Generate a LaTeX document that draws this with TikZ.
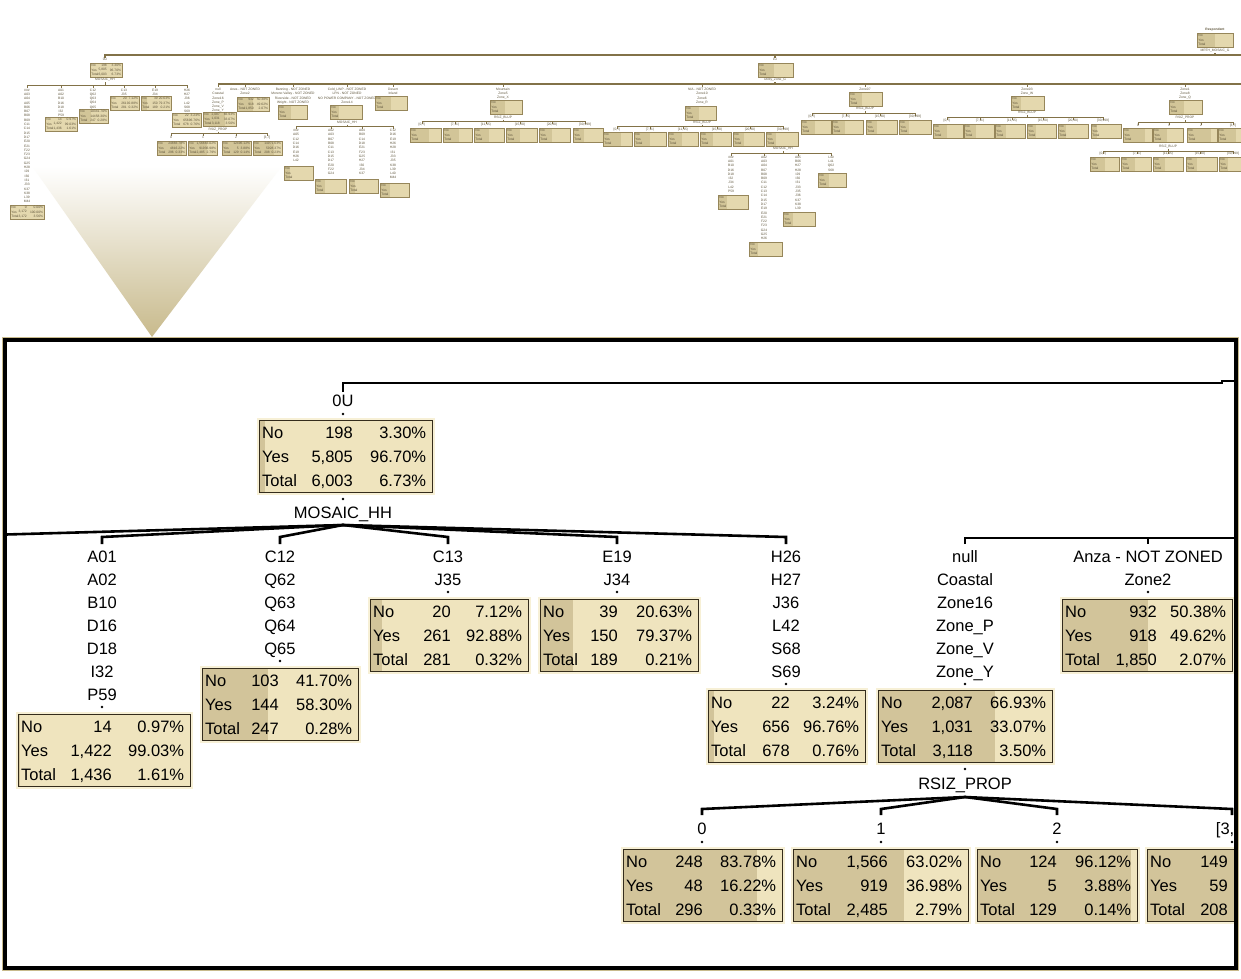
\documentclass[tikz,border=0pt]{standalone}
\usepackage{fontspec}
\setmainfont{Liberation Sans}
\usetikzlibrary{calc}
\definecolor{lt}{RGB}{239,228,190}
\definecolor{dk}{RGB}{210,196,154}
\definecolor{bd}{RGB}{52,44,28}
\definecolor{glow}{RGB}{247,240,214}
\definecolor{ovfill}{RGB}{228,216,174}
\definecolor{ovdark}{RGB}{210,197,152}
\definecolor{ovbd}{RGB}{150,134,90}
\definecolor{ovln}{RGB}{130,114,72}
\definecolor{ovtx}{RGB}{95,85,60}
\definecolor{trmid}{RGB}{238,226,186}
\definecolor{trbot}{RGB}{200,186,140}
\tikzset{
 big/.style={font=\fontsize{16.5}{18}\selectfont, inner sep=0, text=black},
 sbox/.style={draw=bd, line width=1.3, fill=lt, minimum height=72, inner sep=0, anchor=north west,
   preaction={draw=glow, line width=5},
   path picture={\fill[dk] (path picture bounding box.south west) rectangle ($(path picture bounding box.north west)!#1!(path picture bounding box.north east)$);}},
 conn/.style={draw=black, line width=2.6},
 ovt/.style={font=\fontsize{3.3}{3.3}\selectfont, text=ovtx, inner sep=0},
 ovbox/.style={draw=ovbd, line width=0.5, fill=ovfill, minimum height=14, inner sep=0, anchor=north west,
   path picture={\fill[ovdark] (path picture bounding box.south west) rectangle ($(path picture bounding box.north west)!#1!(path picture bounding box.north east)$);}},
 ovl/.style={draw=ovln, line width=1.5},
 ovs/.style={draw=ovln, line width=0.9},
}
% big box rows: node, count column offset, six values
\newcommand\rows[8]{%
 \node[big,anchor=base west] at ($(#1.north west)+(3,18.5)$) {No};
 \node[big,anchor=base east] at ($(#1.north west)+(#2,18.5)$) {#3};
 \node[big,anchor=base east] at ($(#1.north east)+(-7,18.5)$) {#4};
 \node[big,anchor=base west] at ($(#1.north west)+(3,42.5)$) {Yes};
 \node[big,anchor=base east] at ($(#1.north west)+(#2,42.5)$) {#5};
 \node[big,anchor=base east] at ($(#1.north east)+(-7,42.5)$) {#6};
 \node[big,anchor=base west] at ($(#1.north west)+(3,66.5)$) {Total};
 \node[big,anchor=base east] at ($(#1.north west)+(#2,66.5)$) {#7};
 \node[big,anchor=base east] at ($(#1.north east)+(-7,66.5)$) {#8};}
\newcommand\dotat[2]{\fill (#1,#2) circle (1.3);}
\newcommand\biglist[4]{\foreach \itm [count=\i] in {#4} \node[big, anchor=base] (#1-\i) at (#2,{#3+(\i-1)*23}) {\itm};}
% overview helpers
\newcommand\ovb[5]{%
 \node[ovbox=#5, minimum width={#4-#2}] (#1) at (#2,#3) {};
 \node[ovt, anchor=west] at ($(#1.north west)+(1.2,2.6)$) {No};
 \node[ovt, anchor=west] at ($(#1.north west)+(1.2,7)$) {Yes};
 \node[ovt, anchor=west] at ($(#1.north west)+(1.2,11.4)$) {Total};}
\newcommand\ovn[7]{%
 \node[ovt, anchor=east] at ($(#1.north west)+(17,2.6)$) {#2};
 \node[ovt, anchor=east] at ($(#1.north east)+(-1.2,2.6)$) {#3};
 \node[ovt, anchor=east] at ($(#1.north west)+(17,7)$) {#4};
 \node[ovt, anchor=east] at ($(#1.north east)+(-1.2,7)$) {#5};
 \node[ovt, anchor=east] at ($(#1.north west)+(17,11.4)$) {#6};
 \node[ovt, anchor=east] at ($(#1.north east)+(-1.2,11.4)$) {#7};}
\newcommand\ovlist[4]{\foreach \itm [count=\i] in {#4} \node[ovt] (#1-\i) at (#2,{#3+(\i-1)*4.3}) {\itm};}
\newcommand\ovfan[4]{\draw[ovs] (#1,#2) -- (#1,#3);
 \foreach \cc in {#4} \draw[ovs] (#1,#3) -- (\cc,#3) -- (\cc,#3+2.5);}
\newcommand\ovlabs[2]{\foreach \xx/\tx in {#2} \node[ovt] at (\xx,#1) {\tx};}
\newcommand\ovrow[3]{\foreach \aa/\bb/\ff [count=\i] in {#3} {\ovb{#1\i}{\aa}{#2}{\bb}{\ff}}}
\begin{document}
\begin{tikzpicture}[x=1pt,y=-1pt]
\useasboundingbox (0,0) rectangle (1241,978);
\clip (0,0) rectangle (1241,978);
\fill[white] (0,0) rectangle (1241,978);

% ================= overview =================
\node[ovt, font=\bfseries\fontsize{3.3}{3.3}\selectfont] (oRespL) at (1215,30) {Respondent};
\ovb{oRoot}{1197}{33}{1233}{0.5}
\node[ovt] (oRootS) at (1215,51) {MRTH\_MOSAIC\_G};
\draw[ovl] (1215,53) -- (1215,55);
\draw[ovl] (105,57.5) -- (105,55) -- (1241,55);
\draw[ovl] (775,55) -- (775,57.5);

% 0U subtree
\node[ovt] (o0UL) at (105,59.8) {0U};
\ovb{o0U}{90}{63}{122}{0.033}
\ovn{o0U}{198}{3.30\%}{5,805}{96.70\%}{6,003}{6.73\%}
\node[ovt] (o0US) at (105,80) {MOSAIC\_HH};
\ovfan{105}{82}{85}{27,61,93,124,155,187}
\ovlist{oLh}{27}{90}{\#\#\#,A03,A04,A05,B06,B07,B08,B09,C11,C14,D15,D17,E20,E21,F22,F23,G24,G25,H28,I29,I30,I31,J33,K37,K38,L39,M44}
\ovb{oHash}{10}{205}{44}{0.0}
\ovn{oHash}{0}{0.00\%}{3,172}{100.00\%}{3,172}{3.56\%}
\ovlist{oLa}{61}{90}{A01,A02,B10,D16,D18,I32,P59}
\ovb{oA01}{45}{117}{77}{0.0097}
\ovn{oA01}{14}{0.97\%}{1,422}{99.03\%}{1,436}{1.61\%}
\ovlist{oLc}{93}{90}{C12,Q62,Q63,Q64,Q65}
\ovb{oC12}{79}{109}{108}{0.417}
\ovn{oC12}{103}{41.70\%}{144}{58.30\%}{247}{0.28\%}
\ovlist{oLd}{124}{90}{C13,J35}
\ovb{oC13}{110}{96}{139}{0.0712}
\ovn{oC13}{20}{7.12\%}{261}{92.88\%}{281}{0.32\%}
\ovlist{oLe}{155}{90}{E19,J34}
\ovb{oE19}{141}{96}{171}{0.2063}
\ovn{oE19}{39}{20.63\%}{150}{79.37\%}{189}{0.21\%}
\ovlist{oLf}{187}{90}{H26,H27,J36,L42,S68,S69}
\ovb{oH26}{172}{113}{201}{0.0324}
\ovn{oH26}{22}{3.24\%}{656}{96.76\%}{678}{0.76\%}

% second child of root
\node[ovt] (oAllL) at (775,59.8) {1U};
\ovb{oAll}{758}{63}{793}{0.45}
\node[ovt] (oAllS) at (775,80) {Utility\_Zone\_G};
\draw[ovl] (775,82) -- (775,84);
\draw[ovl] (218,84) -- (1241,84);
\foreach \cc in {218,245,293,347,393,503,702,865,1027,1185} \draw[ovs] (\cc,84) -- (\cc,86.5);

% null
\ovlist{oLn}{218}{89.5}{null,Coastal,Zone16,Zone\_P,Zone\_V,Zone\_Y}
\ovb{oNull}{203}{112}{236}{0.6693}
\ovn{oNull}{2,087}{66.93\%}{1,031}{33.07\%}{3,118}{3.50\%}
\node[ovt] (oNullS) at (218,129.5) {RSIZ\_PROP};
\ovfan{218}{131.5}{133.5}{171,203,236,267}
\ovlabs{137.5}{171/0,203/1,236/2,267/{[3,7]}}
\ovrow{oR}{141}{157/186/0.8378,188/217/0.6302,222/251/0.9612,253/282/0.7163}
\ovn{oR1}{248}{83.78\%}{48}{16.22\%}{296}{0.33\%}
\ovn{oR2}{1,566}{63.02\%}{919}{36.98\%}{2,485}{2.79\%}
\ovn{oR3}{124}{96.12\%}{5}{3.88\%}{129}{0.14\%}
\ovn{oR4}{149}{71.63\%}{59}{28.37\%}{208}{0.23\%}

% Anza
\ovlist{oLz}{245}{89.5}{Anza - NOT ZONED,Zone2}
\ovb{oAnza}{237}{97}{269}{0.5038}
\ovn{oAnza}{932}{50.38\%}{918}{49.62\%}{1,850}{2.07\%}

% Banning
\ovlist{oLb}{293}{89.5}{Banning - NOT ZONED,Moreno Valley - NOT ZONED,Riverside - NOT ZONED,Wright - NOT ZONED}
\ovb{oBan}{278}{105}{307}{0.43}

% Cold
\ovlist{oLk}{347}{89.5}{Cold\_LINP - NOT ZONED,LPN - NOT ZONED,NO POWER COMPANY - NOT ZONED,Zone14}
\ovb{oCold}{330}{105}{362}{0.27}
\node[ovt] (oColdS) at (347,122.5) {MOSAIC\_HH};
\ovfan{347}{124.5}{126.5}{296,331,362,393}
\ovlist{oLk1}{296}{130.5}{\#\#\#,A05,C12,C14,D16,E19,H26,L42}
\ovb{oK1}{284}{166}{313}{0.2}
\ovlist{oLk2}{331}{130.5}{A02,A03,B07,B08,C11,C13,D15,D17,E20,F22,G24}
\ovb{oK2}{315}{179}{346}{0.3}
\ovlist{oLk3}{362}{130.5}{A04,B09,C14,D18,E21,F23,G25,H27,I30,J34,K37}
\ovb{oK3}{349}{179}{378}{0.2}
\ovlist{oLk4}{393}{130.5}{C12,D16,E19,H26,H28,I31,J33,J35,K38,L39,L40,M44}
\ovb{oK4}{380}{183}{409}{0.35}

% Desert
\ovlist{oLd2}{393}{89.5}{Desert,Inland}
\ovb{oDes}{375}{96}{407}{0.5}

% Mountain
\ovlist{oLm}{503}{89.5}{Mountain,Zone5,Zone\_X}
\ovb{oMnt}{490}{100}{522}{0.45}
\node[ovt] (oMntS) at (503,117.5) {RSIZ\_BLUP};
\ovfan{503}{119.5}{121.5}{422,455,486,520,552,585}
\ovlabs{125}{422/{[0,7)},455/{[7,11)},486/{[11,15)},520/{[15,20)},552/{[20,30)},585/{[30,999]}}
\ovrow{oM}{128}{410/441/0.6,443/472/0.55,474/504/0.5,506/537/0.45,539/570/0.4,573/603/0.35}

% N/A
\ovlist{oLna}{702}{89.5}{N/A - NOT ZONED,Zone10,Zone6,Zone\_R}
\ovb{oNA}{685}{106}{716}{0.45}
\node[ovt] (oNAS) at (702,122.5) {RSIZ\_BLUP};
\ovfan{702}{124.5}{126}{617,650,683,717,750,783}
\ovlabs{129.5}{617/{[0,7)},650/{[7,11)},683/{[11,15)},717/{[15,20)},750/{[20,30)},783/{[30,999]}}
\ovrow{oN}{132}{603/632/0.6,634/666/0.5,668/698/0.45,700/731/0.4,733/764/0.35,766/798/0.3}
\node[ovt] (oN6S) at (783,149) {MOSAIC\_HH};
\ovfan{783}{151}{153}{731,764,798,831}
\ovlist{oLq1}{731}{157}{\#\#\#,A01,B10,D16,D18,I32,J34,L42,P59}
\ovb{oQ1}{718}{195}{748}{0.3}
\ovlist{oLq2}{764}{157}{A02,A03,A04,B07,B08,B09,C11,C12,C13,C14,D15,D17,E19,E20,E21,F22,F23,G24,G25,H26}
\ovb{oQ2}{749}{242}{782}{0.25}
\ovlist{oLq3}{798}{157}{A05,B06,H27,H28,I29,I30,I31,J33,J35,J36,K37,K38,L39}
\ovb{oQ3}{783}{212}{815}{0.3}
\ovlist{oLq4}{831}{157}{L40,L41,Q62,S68}
\ovb{oQ4}{818}{173}{846}{0.4}

% Zone07
\ovlist{oLs}{865}{89.5}{Zone07}
\ovb{oS}{849}{92}{882}{0.4}
\node[ovt] (oSS) at (865,109) {RSIZ\_BLUP};
\ovfan{865}{111}{113}{812,846,880,915}
\ovlabs{116.5}{812/{[0,7)},846/{[7,15)},880/{[15,30)},915/{[30,999]}}
\ovrow{oS}{120}{801/831/0.45,832/863/0.4,866/897/0.35,899/931/0.3}

% Zone03
\ovlist{oLt}{1027}{89.5}{Zone03,Zone\_W}
\ovb{oT}{1011}{96}{1044}{0.3}
\node[ovt] (oTS) at (1027,113) {RSIZ\_BLUP};
\ovfan{1027}{115}{117}{947,980,1012,1043,1073,1103}
\ovlabs{120.5}{947/{[0,7)},980/{[7,11)},1012/{[11,15)},1043/{[15,20)},1073/{[20,30)},1103/{[30,999]}}
\ovrow{oT}{124}{933/963/0.45,964/994/0.4,995/1025/0.35,1027/1056/0.3,1058/1088/0.25,1091/1121/0.2}

% Zone1
\ovlist{oLu}{1185}{89.5}{Zone1,Zone8,Zone\_Q}
\ovb{oU}{1169}{100}{1202}{0.45}
\node[ovt] (oUS) at (1185,118) {RSIZ\_PROP};
\ovfan{1185}{120}{122}{1138,1169,1201,1233}
\ovlabs{125.5}{1138/0,1169/1,1201/2,1233/{[3,7]}}
\ovrow{oU}{128}{1123/1152/0.75,1153/1183/0.45,1187/1217/0.8,1218/1248/0.6}
\node[ovt] (oU2S) at (1168,146.5) {RSIZ\_BLUP};
\ovfan{1168}{148.5}{151}{1103,1137,1168,1200,1233}
\ovlabs{154}{1103/{[0,7)},1137/{[7,11)},1168/{[11,15)},1200/{[15,30)},1233/{[30,999]}}
\ovrow{oV}{157}{1090/1119/0.5,1121/1151/0.45,1153/1183/0.4,1186/1217/0.35,1219/1249/0.3}

% ================= magnifier triangle =================
\shade[top color=white, middle color=trmid, bottom color=trbot] (32,166) -- (282,166) -- (152,337) -- cycle;

% ================= zoomed view =================
\begin{scope}
\clip (7,342) rectangle (1234,966);
\coordinate (zTopL) at (343,383);
\coordinate (zTopR) at (1245,381);
\coordinate (z0Uin) at (343,392);
\draw[conn] (z0Uin) -- (zTopL) -- (1222,383) -- (1222,381) -- (zTopR);
\node[big, anchor=base] (z0UL) at (343,406) {0U};
\dotat{343}{414}
\node[sbox=0.033, minimum width=173] (z0U) at (259,420) {};
\rows{z0U}{94}{198}{3.30\%}{5,805}{96.70\%}{6,003}{6.73\%}
\dotat{343}{499}
\node[big, anchor=base] (z0US) at (343,518) {MOSAIC\_HH};
\coordinate (zfM) at (343,525);
\foreach \cx/\nm in {-83/hash,102/A01,280/C12,448/C13,617/E19,786/H26} {
  \coordinate (ze\nm) at (\cx,537);
  \coordinate (zt\nm) at (\cx,544);
  \draw[conn] (zfM) -- (ze\nm) -- (zt\nm);
}
% utility zone branch line
\coordinate (zUn) at (965,544);
\coordinate (zUa) at (1148,544);
\coordinate (zUr) at (1245,538);
\draw[conn] (zUn) -- (965,538) -- (zUr);
\draw[conn] (1148,538) -- (zUa);

% MOSAIC children
\biglist{zLa}{102}{562}{A01,A02,B10,D16,D18,I32,P59}
\dotat{102}{707}
\node[sbox=0.0097, minimum width=172] (zA01) at (18,714) {};
\rows{zA01}{94}{14}{0.97\%}{1,422}{99.03\%}{1,436}{1.61\%}

\biglist{zLc}{280}{562}{C12,Q62,Q63,Q64,Q65}
\dotat{280}{661}
\node[sbox=0.417, minimum width=156] (zC12) at (202,668) {};
\rows{zC12}{77}{103}{41.70\%}{144}{58.30\%}{247}{0.28\%}

\biglist{zLd}{448}{562}{C13,J35}
\dotat{448}{592}
\node[sbox=0.0712, minimum width=158] (zC13) at (370,599) {};
\rows{zC13}{81}{20}{7.12\%}{261}{92.88\%}{281}{0.32\%}

\biglist{zLe}{617}{562}{E19,J34}
\dotat{617}{592}
\node[sbox=0.2063, minimum width=158] (zE19) at (540,599) {};
\rows{zE19}{78}{39}{20.63\%}{150}{79.37\%}{189}{0.21\%}

\biglist{zLf}{786}{562}{H26,H27,J36,L42,S68,S69}
\dotat{786}{684}
\node[sbox=0.0324, minimum width=157] (zH26) at (708,690) {};
\rows{zH26}{82}{22}{3.24\%}{656}{96.76\%}{678}{0.76\%}

\biglist{zLn}{965}{562}{null,Coastal,Zone16,Zone\_P,Zone\_V,Zone\_Y}
\dotat{965}{684}
\node[sbox=0.6693, minimum width=174] (zNull) at (878,690) {};
\rows{zNull}{95}{2,087}{66.93\%}{1,031}{33.07\%}{3,118}{3.50\%}

\biglist{zLz}{1148}{562}{Anza - NOT ZONED,Zone2}
\dotat{1148}{592}
\node[sbox=0.5038, minimum width=170] (zAnza) at (1062,599) {};
\rows{zAnza}{95}{932}{50.38\%}{918}{49.62\%}{1,850}{2.07\%}

% RSIZ_PROP split
\dotat{965}{769}
\node[big, anchor=base] (zNullS) at (965,789) {RSIZ\_PROP};
\coordinate (zfR) at (965,797);
\foreach \cx/\nm in {702/r0,881/r1,1057/r2,1232/r3} {
  \coordinate (ze\nm) at (\cx,809);
  \coordinate (zt\nm) at (\cx,815);
  \draw[conn] (zfR) -- (ze\nm) -- (zt\nm);
}
\node[big, anchor=base] (zLr0) at (702,834) {0};
\node[big, anchor=base] (zLr1) at (881,834) {1};
\node[big, anchor=base] (zLr2) at (1057,834) {2};
\node[big, anchor=base] (zLr3) at (1232,834) {[3,7]};
\foreach \cx in {702,881,1057,1232} \dotat{\cx}{842}
\node[sbox=0.8378, minimum width=159] (zR0) at (623,849) {};
\rows{zR0}{80}{248}{83.78\%}{48}{16.22\%}{296}{0.33\%}
\node[sbox=0.6302, minimum width=175] (zR1) at (793,849) {};
\rows{zR1}{95}{1,566}{63.02\%}{919}{36.98\%}{2,485}{2.79\%}
\node[sbox=0.9612, minimum width=160] (zR2) at (977,849) {};
\rows{zR2}{80}{124}{96.12\%}{5}{3.88\%}{129}{0.14\%}
\node[sbox=0.7163, minimum width=165] (zR3) at (1147,849) {};
\rows{zR3}{81}{149}{71.63\%}{59}{28.37\%}{208}{0.23\%}
\end{scope}

% frame
\draw[trbot, line width=1] (2.2,337.2) rectangle (1238.8,970.8);
\draw[black, line width=4.5] (5,340) rectangle (1236,968);
\end{tikzpicture}
\end{document}
